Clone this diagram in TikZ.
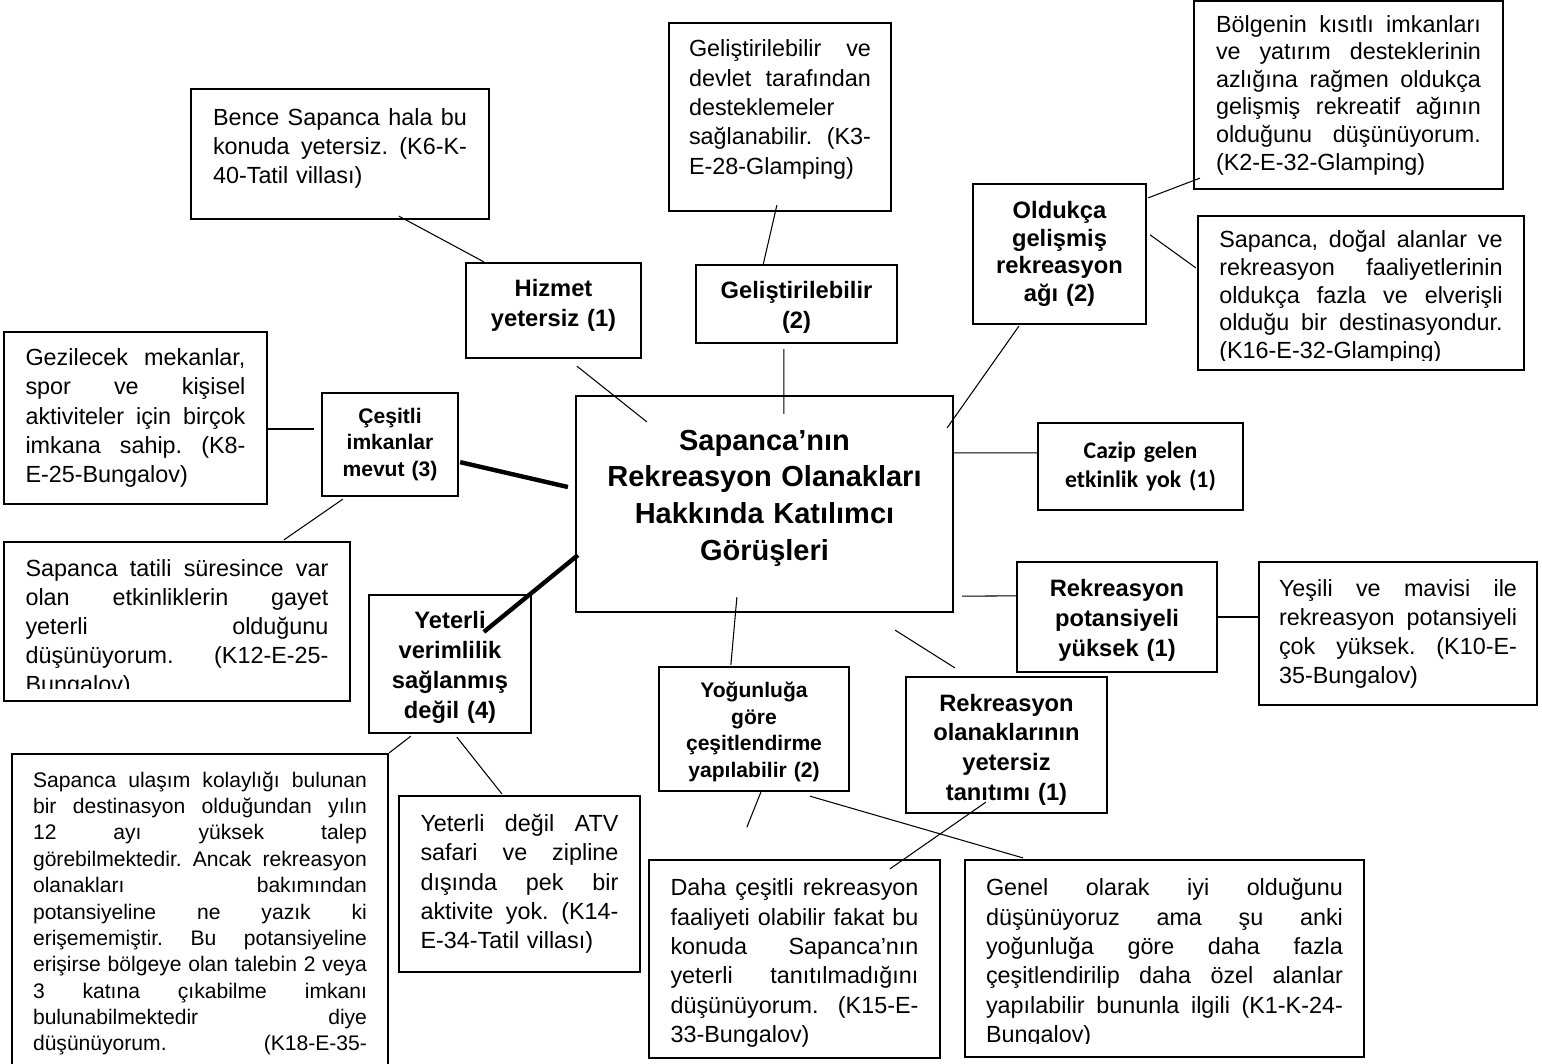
\documentclass[tikz,border=0pt]{standalone}
\usepackage{fontspec}
\setmainfont{Liberation Sans}
\newfontfamily\calib{Carlito}
\usetikzlibrary{calc}
\frenchspacing
\newlength\jlw
\newcommand\jl[1]{{\spaceskip=0pt\xspaceskip=0pt\makebox[\jlw][s]{#1}}}
\newcommand\lowpad[1]{\rule[-#1]{0pt}{#1}}
\newcommand\highpad[1]{\rule{0pt}{#1}}
\begin{document}
\begin{tikzpicture}[x=0.02cm,y=-0.02cm,
  box/.style={draw, line width=1.3pt, inner sep=0pt, rectangle},
  cmt/.style={box, align=left, font=\fontsize{13.3}{16.7}\selectfont},
  tw/.style={text width=#1, execute at begin node={\setlength{\jlw}{#1}}},
  lbl/.style={box, align=center, font=\fontsize{13.5}{17}\selectfont\bfseries},
  link/.style={line width=0.6pt},
  heavy/.style={line width=2.5pt}]
\useasboundingbox (0,0) rectangle (1542,1063);
\clip (0,0) rectangle (1542,1063);

\node(Main)[lbl, font=\fontsize{16.5}{20.9}\selectfont\bfseries, text width=7cm, minimum width=7.54cm, minimum height=4.32cm] at (764.5,504) {Sapanca’nın\\ Rekreasyon Olanakları\\ Hakkında Katılımcı\\ Görüşleri\lowpad{0.36cm}};

\node(K6)[cmt, tw=5.08cm, minimum width=5.96cm, minimum height=2.6cm] at (340,154) {\jl{Bence Sapanca hala bu}\\ \jl{konuda yetersiz. (K6-K-}\\ 40-Tatil villası)\lowpad{0.32cm}};
\node(Hizmet)[lbl, text width=3.2cm, minimum width=3.5cm, minimum height=1.9cm] at (553.5,310.5) {Hizmet\\ yetersiz (1)\lowpad{0.3cm}};

\node(K3)[cmt, tw=3.64cm, minimum width=4.44cm, minimum height=3.76cm] at (780,117) {\jl{Geliştirilebilir  ve}\\ \jl{devlet tarafından}\\ desteklemeler\\ \jl{sağlanabilir. (K3-}\\ E-28-Glamping)\lowpad{0.4cm}};
\node(Gelis)[lbl, text width=3.8cm, minimum width=4.02cm, minimum height=1.56cm] at (796.5,304) {\highpad{0.47cm}Geliştirilebilir\\ (2)};

\node(Olduk)[lbl, font=\fontsize{13.5}{15.8}\selectfont\bfseries, text width=3.2cm, minimum width=3.46cm, minimum height=2.8cm] at (1059.5,254) {Oldukça\\ gelişmiş\\ rekreasyon\\ ağı (2)};
\node(K2)[cmt, font=\fontsize{13.3}{15.7}\selectfont, tw=5.3cm, minimum width=6.18cm, minimum height=3.76cm] at (1348.5,95) {\jl{Bölgenin kısıtlı imkanları}\\ \jl{ve yatırım desteklerinin}\\ \jl{azlığına rağmen oldukça}\\ \jl{gelişmiş rekreatif ağının}\\ \jl{olduğunu düşünüyorum.}\\ (K2-E-32-Glamping)};
\node(K16)[cmt, font=\fontsize{13.3}{15.7}\selectfont, tw=5.67cm, minimum width=6.52cm, minimum height=3.08cm] at (1361,293) {\jl{\highpad{0.5cm}Sapanca, doğal alanlar ve}\\ \jl{rekreasyon  faaliyetlerinin}\\ \jl{oldukça fazla ve elverişli}\\ \jl{olduğu bir destinasyondur.}\\ (K16-E-32-Glamping)};

\node(Cazip)[lbl, font=\calib\fontsize{13.5}{16.5}\selectfont\bfseries, text width=3.8cm, minimum width=4.1cm, minimum height=1.74cm] at (1140.5,466.5) {Cazip gelen\\ etkinlik yok (1)};

\node(Potans)[lbl, text width=3.6cm, minimum width=4cm, minimum height=2.2cm] at (1117,617) {\highpad{0.47cm}Rekreasyon\\ potansiyeli\\ yüksek (1)};
\node(K10)[cmt, font=\fontsize{13.3}{16.5}\selectfont, tw=4.76cm, minimum width=5.56cm, minimum height=2.86cm] at (1398,633.5) {\jl{Yeşili ve mavisi ile}\\ \jl{rekreasyon potansiyeli}\\ \jl{çok yüksek. (K10-E-}\\ 35-Bungalov)};

\node(Tanit)[lbl, text width=3.8cm, minimum width=4.02cm, minimum height=2.72cm] at (1006.5,745) {\highpad{0.53cm}Rekreasyon\\ olanaklarının\\ yetersiz\\ tanıtımı (1)};
\node(Yogun)[lbl, font=\fontsize{12}{15.2}\selectfont\bfseries, text width=3.5cm, minimum width=3.8cm, minimum height=2.48cm] at (754,729) {\highpad{0.43cm}Yoğunluğa\\ göre\\ çeşitlendirme\\ yapılabilir (2)};
\node(K15)[cmt, tw=4.96cm, minimum width=5.82cm, minimum height=3.96cm] at (794.5,959) {\jl{\highpad{0.5cm}Daha çeşitli rekreasyon}\\ \jl{faaliyeti olabilir fakat bu}\\ \jl{konuda Sapanca’nın}\\ \jl{yeterli tanıtılmadığını}\\ \jl{düşünüyorum. (K15-E-}\\ 33-Bungalov)};
\node(K1)[cmt, tw=7.14cm, minimum width=7.98cm, minimum height=3.94cm] at (1164.5,958.5) {\jl{\highpad{0.52cm}Genel olarak iyi olduğunu}\\ \jl{düşünüyoruz ama şu anki}\\ \jl{yoğunluğa göre daha fazla}\\ \jl{çeşitlendirilip daha özel alanlar}\\ \jl{yapılabilir bununla ilgili (K1-K-24-}\\ Bungalov)};

\node(Verim)[lbl, text width=3cm, minimum width=3.24cm, minimum height=2.76cm] at (450,664) {\highpad{0.47cm}Yeterli\\ verimlilik\\ sağlanmış\\ değil (4)};
\node(K18)[cmt, font=\fontsize{12}{15}\selectfont, tw=6.68cm, minimum width=7.52cm, minimum height=6.3cm] at (200,911.5) {\jl{\highpad{0.39cm}Sapanca ulaşım kolaylığı bulunan}\\ \jl{bir destinasyon olduğundan yılın}\\ \jl{12 ayı yüksek talep}\\ \jl{görebilmektedir. Ancak rekreasyon}\\ \jl{olanakları bakımından}\\ \jl{potansiyeline ne yazık ki}\\ \jl{erişememiştir. Bu potansiyeline}\\ \jl{erişirse bölgeye olan talebin 2 veya}\\ \jl{3 katına çıkabilme imkanı}\\ \jl{bulunabilmektedir diye}\\ \jl{düşünüyorum. (K18-E-35-}};
\node(K14)[cmt, tw=3.96cm, minimum width=4.82cm, minimum height=3.52cm] at (519.5,884) {\jl{Yeterli değil ATV}\\ \jl{safari ve zipline}\\ \jl{dışında pek bir}\\ \jl{aktivite yok. (K14-}\\ E-34-Tatil villası)};

\node(Cesit)[lbl, font=\fontsize{12}{15.1}\selectfont\bfseries, text width=2.5cm, minimum width=2.72cm, minimum height=2.06cm] at (390,444.5) {Çeşitli\\ imkanlar\\ mevut (3)};
\node(K8)[cmt, tw=4.4cm, minimum width=5.26cm, minimum height=3.44cm] at (135.5,418) {\jl{Gezilecek mekanlar,}\\ \jl{spor ve kişisel}\\ \jl{aktiviteler için birçok}\\ \jl{imkana sahip. (K8-}\\ E-25-Bungalov)};
\node(K12)[cmt, font=\fontsize{13.3}{16.5}\selectfont, tw=6.06cm, minimum width=6.92cm, minimum height=3.18cm] at (177,621.5) {\jl{\highpad{0.62cm}Sapanca tatili süresince var}\\ \jl{olan etkinliklerin gayet}\\ \jl{yeterli olduğunu}\\ \jl{düşünüyorum. (K12-E-25-}\\ Bungalov)};

% cut last lines
\fill[white] ($(K16.south west)+(2,-2)$) rectangle ($(K16.south east)+(-2,-10)$);
\fill[white] ($(K12.south west)+(2,-2)$) rectangle ($(K12.south east)+(-2,-13)$);
\fill[white] ($(K1.south west)+(2,-2)$) rectangle ($(K1.south east)+(-2,-14)$);

\draw[link] ($(K6.south west)+(209,-4)$) -- ($(Hizmet.north west)+(19,0)$);
\draw[link] ($(Hizmet.south west)+(112,7)$) -- ($(Main.north west)+(72,27)$);
\draw[link] ($(K3.south west)+(109,-7)$) -- ($(Gelis.north west)+(68,2)$);
\draw[link] ($(Gelis.south west)+(89,5)$) -- ($(Main.north west)+(209,19)$);
\draw[link] ($(Olduk.south west)+(47,1)$) -- ($(Main.north east)+(-7,33)$);
\draw[link] ($(Olduk.north east)+(1,15)$) -- ($(K2.south west)+(7,-12)$);
\draw[link] ($(Olduk.north east)+(3,52)$) -- ($(K16.north west)+(-1,53)$);
\draw[link] ($(Main.north east)+(0,58)$) -- ($(Cazip.north west)+(0,31)$);
\draw[link] ($(Main.south east)+(8,-17)$) -- ($(Potans.north west)+(0,35)$);
\draw[link] (Potans.east) -- (Potans.east -| K10.west);
\draw[link] ($(Main.south east)+(-59,17)$) -- ($(Tanit.north west)+(50,-8)$);
\draw[link] ($(Main.south west)+(162,-16)$) -- ($(Yogun.north west)+(73,-1)$);
\coordinate (Yend) at ($(Yogun.south west)+(89,35)$);
\draw[link] ($(Yogun.south west)+(103,0)$) -- (Yend);
\draw[link] ($(Yogun.south west)+(152,4)$) -- ($(K1.north west)+(59,-1)$);
\draw[link] ($(Tanit.south west)+(81,-12)$) -- ($(K15.north west)+(242,10)$);
\draw[heavy] ($(Main.south west)+(3,-58)$) -- ($(Verim.north west)+(116,38)$);
\draw[heavy] ($(Cesit.south east)+(1,-35)$) -- ($(Main.west)+(-7,-17)$);
\draw[link] ($(K8.east)+(0,11)$) -- ($(Cesit.west)+(-7,-15.5)$);
\draw[link] ($(Cesit.south west)+(22,2)$) -- ($(K12.north west)+(281,-1)$);
\draw[link] ($(Verim.south west)+(43,2)$) -- (K18.north east);
\draw[link] ($(Verim.south west)+(89,3)$) -- ($(K14.north west)+(104,-1)$);
\end{tikzpicture}
\end{document}
